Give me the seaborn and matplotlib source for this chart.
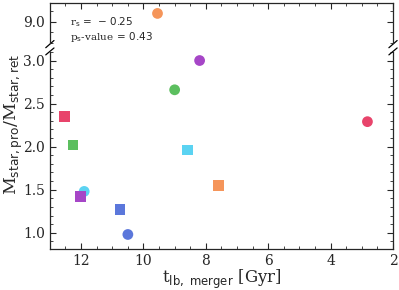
import numpy as np
import pandas as pd
import matplotlib
matplotlib.use("Agg")
import matplotlib.pyplot as plt
import seaborn as sns
from matplotlib.ticker import MultipleLocator, FixedLocator

# Data
galaxies = ["red", "orange", "green", "purple", "cyan", "blue"]
t_circle = [2.82, 9.55, 9.0, 8.2, 11.9, 10.5]
ratio_circle = [2.29, 9.08, 2.66, 3.0, 1.48, 0.98]
t_square = [12.53, 7.6, 12.26, 12.03, 8.59, 10.75]
ratio_square = [2.35, 1.55, 2.02, 1.42, 1.96, 1.27]

palette = {"red": "#e8446b", "orange": "#f5955a", "green": "#5cbf5f",
           "purple": "#a646c7", "cyan": "#5bd3f2", "blue": "#5b77db"}

df = pd.concat([
    pd.DataFrame({"t": t_circle, "ratio": ratio_circle, "galaxy": galaxies, "kind": "circle"}),
    pd.DataFrame({"t": t_square, "ratio": ratio_square, "galaxy": galaxies, "kind": "square"}),
], ignore_index=True)

sns.set_style("ticks")
plt.rcParams["font.family"] = ["DejaVu Serif"]
plt.rcParams["mathtext.fontset"] = "dejavusans"

fig = plt.figure(figsize=(3.99, 2.9), dpi=100)
ax_top = fig.add_axes([0.125, 0.852, 0.86, 0.138])
ax_bot = fig.add_axes([0.125, 0.141, 0.86, 0.68])

for ax in (ax_top, ax_bot):
    sns.scatterplot(data=df, x="t", y="ratio", hue="galaxy", style="kind",
                    palette=palette, markers={"circle": "o", "square": "s"},
                    s=60, linewidth=0, legend=False, ax=ax)
    ax.set_xlim(13, 2)
    ax.xaxis.set_major_locator(MultipleLocator(2))
    ax.xaxis.set_minor_locator(MultipleLocator(0.5))
    ax.tick_params(which="both", direction="in", top=True, right=True, labelsize=10)
    ax.tick_params(which="major", length=4)
    ax.tick_params(which="minor", length=2)
    ax.set_ylabel("")
    for sp in ax.spines.values():
        sp.set_linewidth(0.9)

ax_top.set_ylim(8.8, 9.18)
ax_top.yaxis.set_major_locator(FixedLocator([9.0]))
ax_top.yaxis.set_major_formatter("{x:.1f}")
ax_top.yaxis.set_minor_locator(MultipleLocator(0.1))
ax_top.set_xlabel("")
ax_top.tick_params(axis="x", labelbottom=False, bottom=False, which="both")
ax_top.spines["bottom"].set_visible(False)

ax_bot.set_ylim(0.81, 3.1)
ax_bot.yaxis.set_major_locator(MultipleLocator(0.5))
ax_bot.yaxis.set_minor_locator(MultipleLocator(0.1))
ax_bot.tick_params(axis="x", top=False, which="both")
ax_bot.spines["top"].set_visible(False)

ax_bot.set_xlabel(r"t$_{\rm lb,\ merger}$ [Gyr]", fontsize=12, labelpad=0)
fig.text(0.008, 0.572, r"M$_{\rm star,pro}$/M$_{\rm star,ret}$",
         rotation=90, fontsize=12.5, ha="left", va="center")

# break marks
d = 0.012
for x0 in (0, 1):
    ax_top.plot([x0 - d, x0 + d], [-0.12, 0.06], transform=ax_top.transAxes,
                color="k", lw=0.9, clip_on=False)
    ax_bot.plot([x0 - d, x0 + d], [0.985, 1.02], transform=ax_bot.transAxes,
                color="k", lw=0.9, clip_on=False)

fig.text(0.175, 0.898, "r$_{\\rm s}$$\\,=\\,-\\,0.25$\np$_{\\rm s}$-value$\\,=\\,0.43$",
         fontsize=7.5, va="center", linespacing=1.05)

fig.savefig("out.png", dpi=100)
